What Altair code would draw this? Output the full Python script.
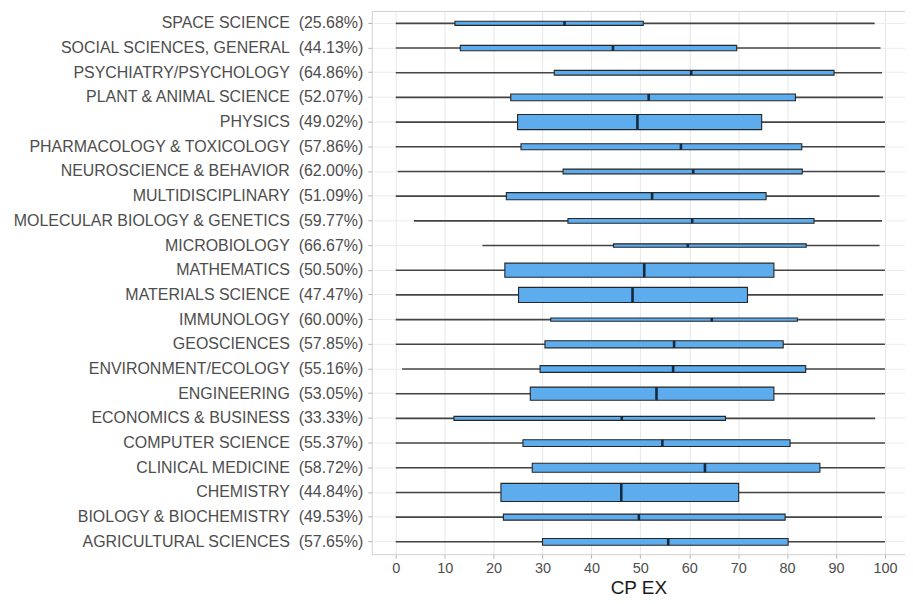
import altair as alt
import pandas as pd

# top-to-bottom order
fields = [
    "SPACE SCIENCE", "SOCIAL SCIENCES, GENERAL", "PSYCHIATRY/PSYCHOLOGY",
    "PLANT & ANIMAL SCIENCE", "PHYSICS", "PHARMACOLOGY & TOXICOLOGY",
    "NEUROSCIENCE & BEHAVIOR", "MULTIDISCIPLINARY", "MOLECULAR BIOLOGY & GENETICS",
    "MICROBIOLOGY", "MATHEMATICS", "MATERIALS SCIENCE", "IMMUNOLOGY",
    "GEOSCIENCES", "ENVIRONMENT/ECOLOGY", "ENGINEERING", "ECONOMICS & BUSINESS",
    "COMPUTER SCIENCE", "CLINICAL MEDICINE", "CHEMISTRY",
    "BIOLOGY & BIOCHEMISTRY", "AGRICULTURAL SCIENCES",
]
pct = [25.68, 44.13, 64.86, 52.07, 49.02, 57.86, 62.00, 51.09, 59.77, 66.67, 50.50,
       47.47, 60.00, 57.85, 55.16, 53.05, 33.33, 55.37, 58.72, 44.84, 49.53, 57.65]
whisker_lo = [0, 0, 0, 0, 0, 0, 0.4, 0, 3.7, 17.7, 0, 0, 0, 0, 1.3, 0, 0, 0, 0, 0, 0, 0]
whisker_hi = [97.9, 99.1, 99.4, 99.6, 100, 100, 100, 98.9, 99.4, 98.9, 100, 99.6, 100,
              100, 100, 100, 98.0, 100, 100, 100, 99.4, 100]
q1 = [12.1, 13.2, 32.4, 23.5, 24.9, 25.6, 34.2, 22.6, 35.2, 44.5, 22.3, 25.1, 31.7,
      30.5, 29.5, 27.5, 11.9, 26.0, 27.9, 21.5, 22.0, 30.0]
median = [34.5, 44.4, 60.4, 51.7, 49.4, 58.3, 60.8, 52.4, 60.6, 59.7, 50.8, 48.4, 64.6,
          56.9, 56.7, 53.3, 46.2, 54.5, 63.2, 46.1, 49.7, 55.7]
q3 = [50.6, 69.7, 89.6, 81.7, 74.8, 83.0, 83.1, 75.7, 85.5, 83.9, 77.3, 71.9, 82.1,
      79.2, 83.8, 77.3, 67.4, 80.6, 86.7, 70.1, 79.6, 80.2]
# group sizes (box thickness ~ sqrt(n), varwidth)
n_obs = [48, 84, 66, 135, 675, 108, 66, 147, 66, 33, 588, 675, 33, 147, 135, 507, 48,
         135, 243, 972, 108, 135]

NB = "\u00a0"
labels = [f"{f}{NB}{NB}({p:.2f}%)" for f, p in zip(fields, pct)]

df = pd.DataFrame({
    "label": labels, "lo": whisker_lo, "hi": whisker_hi,
    "q1": q1, "med": median, "q3": q3, "n": n_obs,
})

x_scale = alt.Scale(domain=[-4.9, 104.1], nice=False, zero=False)
y_enc = alt.Y("label:N", sort=labels,
              scale=alt.Scale(paddingInner=0, paddingOuter=0),
              axis=alt.Axis(title=None, labelFontSize=16, labelColor="#4d4d4d",
                            labelFont="Liberation Sans", labelPadding=5,
                            tickColor="#b3b3b3", tickSize=4, domain=False,
                            grid=True, gridColor="#ebebeb", gridWidth=1,
                            labelLimit=400))
size_scale = alt.Scale(type="sqrt", domain=[0, 1000], range=[0, 18.5])

x_axis = alt.Axis(
    title="CP EX", titleFontSize=19, titleFont="Liberation Sans", titleColor="#1a1a1a",
    titleFontWeight="normal", titlePadding=4,
    values=list(range(0, 101, 5)),
    labelExpr="datum.value % 10 === 0 ? datum.label : ''",
    labelFontSize=14.5, labelColor="#4d4d4d", labelFont="Liberation Sans", labelPadding=3,
    tickSize=4,
    tickColor={"condition": {"test": "datum.value % 10 !== 0", "value": "transparent"},
               "value": "#b3b3b3"},
    gridColor={"condition": {"test": "datum.value % 10 !== 0", "value": "#f3f3f3"},
               "value": "#e6e6e6"},
    domain=False,
)

base = alt.Chart(df)

whiskers = base.mark_rule(color="#444444", strokeWidth=1.6).encode(
    x=alt.X("lo:Q", scale=x_scale, axis=x_axis),
    x2="hi:Q",
    y=y_enc,
)

boxes = base.mark_bar(color="#5CACEE", stroke="#262626", strokeWidth=1.1).encode(
    x=alt.X("q1:Q", scale=x_scale),
    x2="q3:Q",
    y=alt.Y("label:N", sort=labels),
    size=alt.Size("n:Q", scale=size_scale, legend=None),
)

medians = base.mark_tick(color="#15293d", thickness=2.6, opacity=1).encode(
    x=alt.X("med:Q", scale=x_scale),
    y=alt.Y("label:N", sort=labels),
    size=alt.Size("n:Q", scale=size_scale, legend=None),
)

chart = alt.layer(whiskers, boxes, medians).properties(
    width=535, height=545,
    autosize=alt.AutoSizeParams(type="none"),
    padding={"left": 365, "top": 2, "right": 0, "bottom": 48},
    background="white",
).configure_view(stroke="#d0d0d0", strokeWidth=1)

chart.save("out.html", embed_options={"renderer": "svg", "actions": False})
